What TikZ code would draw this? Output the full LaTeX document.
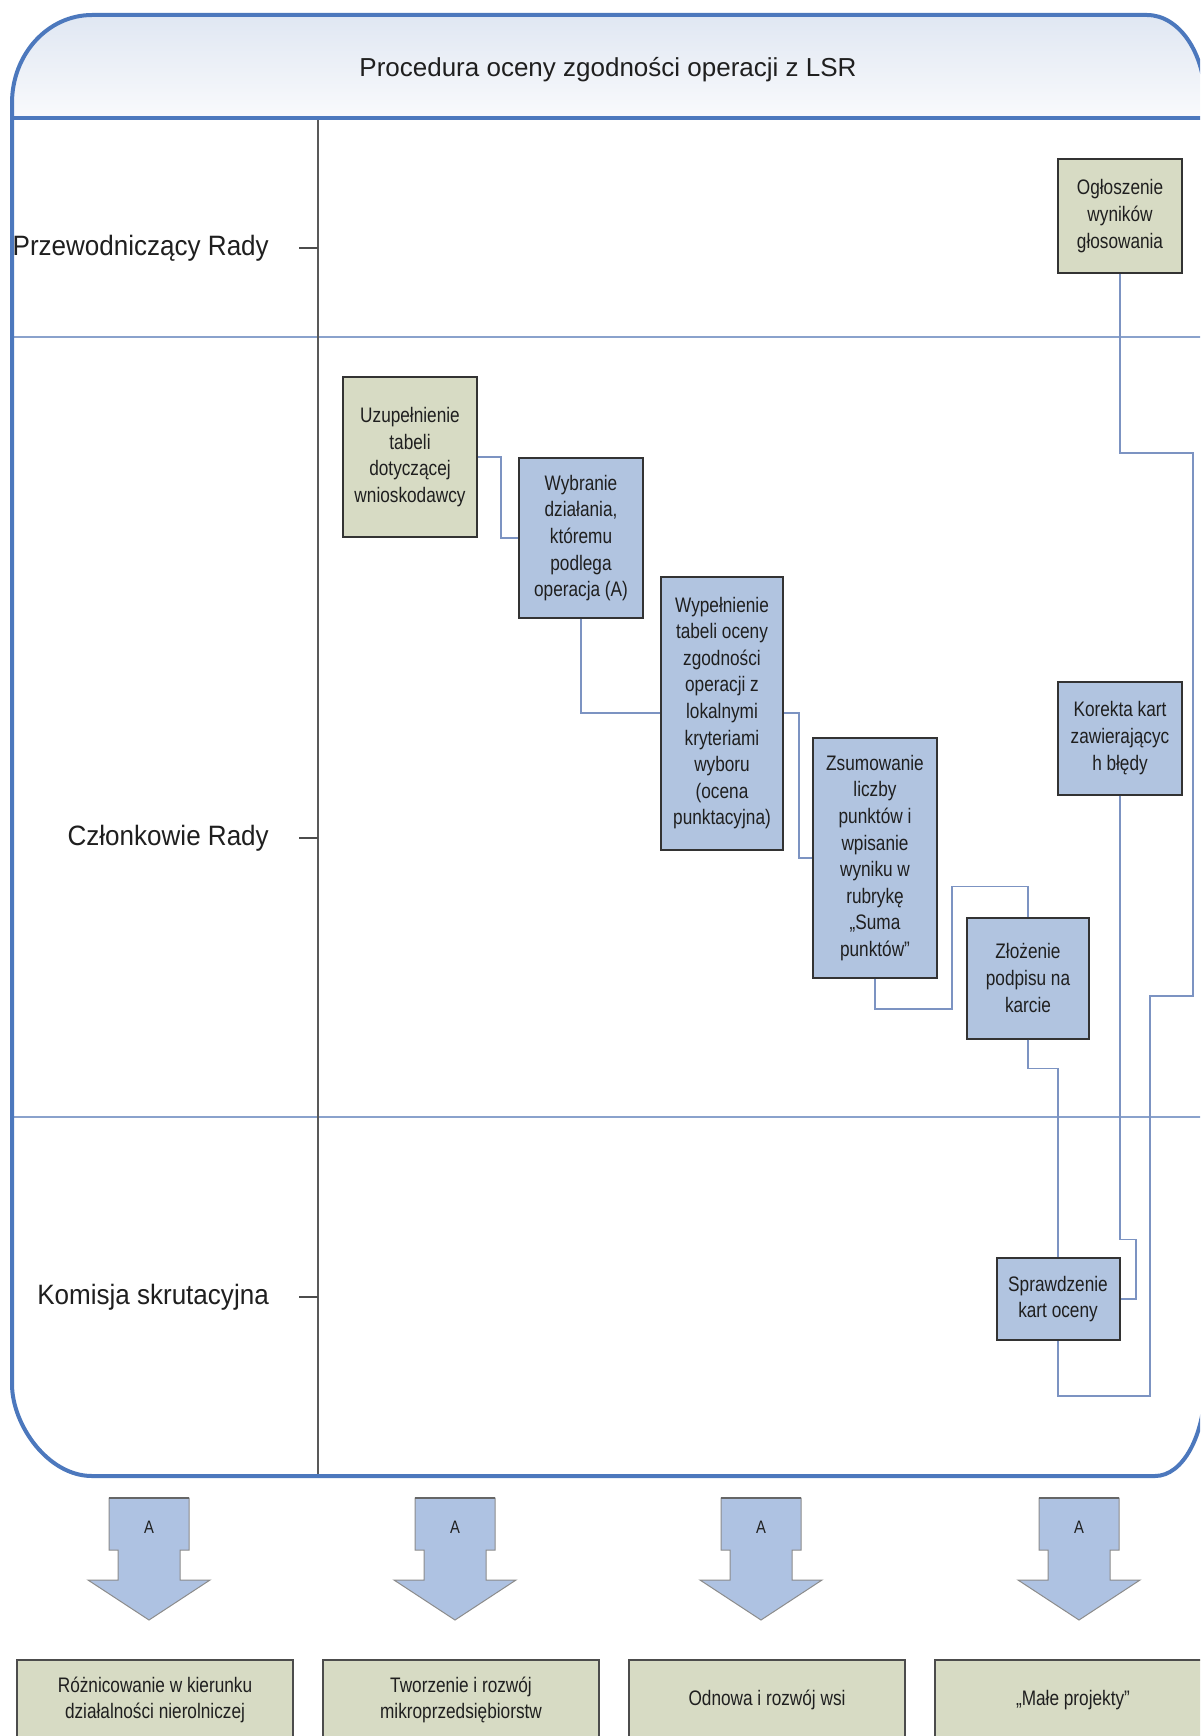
\documentclass[tikz,border=0pt]{standalone}
\usepackage{fontspec}
\setmainfont{Liberation Sans}
\newfontfamily\narrowfont[FakeStretch=0.82]{Liberation Sans}
\newfontfamily\lanefont[FakeStretch=0.93]{Liberation Sans}
\usetikzlibrary{calc}
\definecolor{frameblue}{HTML}{4C78BD}
\definecolor{laneblue}{HTML}{8AA2CC}
\definecolor{connblue}{HTML}{7C93C2}
\definecolor{boxblue}{HTML}{B1C4E0}
\definecolor{boxbeige}{HTML}{D7DBC4}
\definecolor{arrowblue}{HTML}{AEC2E2}
\definecolor{titletop}{HTML}{DCE4F1}
\definecolor{titlebot}{HTML}{F9FAFC}
\definecolor{txt}{HTML}{1F1F1F}
\def\myframepath{(12,103) .. controls (12,54) and (48,15) .. (92,15) -- (1147,15) .. controls (1179,15) and (1205,53) .. (1205,100) -- (1205,1384) .. controls (1205,1435) and (1183,1476) .. (1155,1476) -- (92,1476) .. controls (48,1476) and (12,1425) .. (12,1384) -- cycle}
\begin{document}
\begin{tikzpicture}[x=1pt,y=-1pt,
  procbox/.style={draw=black!80, line width=2, text=txt, align=center, inner sep=0pt,
    font=\narrowfont\fontsize{21}{26.6}\selectfont},
  bluebox/.style={procbox, fill=boxblue},
  beigebox/.style={procbox, fill=boxbeige},
  conn/.style={draw=connblue, line width=1.8},
  lanesep/.style={draw=laneblue, line width=2},
  lanelabel/.style={anchor=east, inner sep=0pt, text=txt, font=\lanefont\fontsize{28}{32}\selectfont},
  lanetick/.style={draw=black!70, line width=1.5},
  blockarrow/.style={fill=arrowblue, draw=black!45, line width=1},
  catbox/.style={fill=boxbeige, draw=black!70, line width=2},
  cattext/.style={text=txt, align=center, font=\narrowfont\fontsize{21}{26}\selectfont},
  arrowlabel/.style={text=txt, font=\narrowfont\fontsize{18}{20}\selectfont}
]
\useasboundingbox (0,0) rectangle (1200,1736);
\clip (0,0) rectangle (1200,1736);
\fill[white] (0,0) rectangle (1200,1736);

% title band
\begin{scope}
  \clip \myframepath;
  \shade[top color=titletop, bottom color=titlebot] (0,0) rectangle (1210,118);
\end{scope}
\node[text=txt, font=\fontsize{26}{30}\selectfont] (title) at (608,70) {Procedura oceny zgodności operacji z LSR};

% lanes
\draw[lanesep] (12,337) -- (1205,337);
\draw[lanesep] (12,1117) -- (1205,1117);
\draw[draw=black!65, line width=2] (318,118) -- (318,1476);

% frame and header line
\draw[draw=frameblue, line width=4] (12,118) -- (1205,118);
\draw[draw=frameblue, line width=4] \myframepath;

% lane labels
\node[lanelabel] (lane1) at (269,248) {Przewodniczący Rady};
\node[lanelabel] (lane2) at (269,838) {Członkowie Rady};
\node[lanelabel] (lane3) at (269,1297) {Komisja skrutacyjna};
\draw[lanetick] (299,248) -- (318,248);
\draw[lanetick] (299,838) -- (318,838);
\draw[lanetick] (299,1297) -- (318,1297);

% process boxes
\node[beigebox, minimum width=134, minimum height=160] (uzu) at (410,457) {Uzupełnienie\\tabeli\\dotyczącej\\wnioskodawcy};
\node[bluebox, minimum width=124, minimum height=160] (wyb) at (581,538) {Wybranie\\działania,\\któremu\\podlega\\operacja (A)};
\node[bluebox, minimum width=122, minimum height=273] (wyp) at (722,713) {Wypełnienie\\tabeli oceny\\zgodności\\operacji z\\lokalnymi\\kryteriami\\wyboru\\(ocena\\punktacyjna)};
\node[bluebox, minimum width=124, minimum height=240] (zsu) at (875,858) {Zsumowanie\\liczby\\punktów i\\wpisanie\\wyniku w\\rubrykę\\„Suma\\punktów”};
\node[bluebox, minimum width=122, minimum height=121] (zlo) at (1028,978) {Złożenie\\podpisu na\\karcie};
\node[beigebox, minimum width=124, minimum height=113] (ogl) at (1120,216) {Ogłoszenie\\wyników\\głosowania};
\node[bluebox, minimum width=124, minimum height=113] (kor) at (1120,738) {Korekta kart\\zawierającyc\\h błędy};
\node[bluebox, minimum width=123, minimum height=82] (spr) at (1058,1299) {Sprawdzenie\\kart oceny};

% connectors
\draw[conn] (uzu.east) -- ++(23,0) |- (wyb.west);
\draw[conn] (wyb.south) |- (wyp.west);
\draw[conn] (wyp.east) -- ++(15,0) |- (zsu.west);
\draw[conn] (zsu.south) -- ++(0,30) -- ++(77,0) |- ($(zlo.north)+(0,-30)$) -- (zlo.north);
\draw[conn] (zlo.south) -- ++(0,29) -| (spr.north);
\draw[conn] (kor.south) -- ++(0,444) -- ++(16,0) |- (spr.east);
\coordinate (oglbend) at (1120,453);
\draw[conn] (spr.south) -- ++(0,55) -- ++(92,0) -- ++(0,-400) -- ++(43,0) |- (oglbend) -- (ogl.south);

% block arrows
\foreach \cx/\nm in {149/a1,455/a2,761/a3,1079/a4}{
  \draw[blockarrow] (\cx-40,1498) -- (\cx+40,1498) -- (\cx+40,1550) -- (\cx+31,1550) -- (\cx+31,1580)
     -- (\cx+61,1580) -- (\cx,1620) -- (\cx-61,1580) -- (\cx-31,1580) -- (\cx-31,1550) -- (\cx-40,1550) -- cycle;
  \draw[draw=black!60, line width=2.5] (\cx-40,1498) -- (\cx+40,1498);
  \node[arrowlabel] (\nm) at (\cx,1527) {A};
}

% category boxes
\draw[catbox] (17,1745) -- (17,1660) -- (293,1660) -- (293,1745);
\draw[catbox] (323,1745) -- (323,1660) -- (599,1660) -- (599,1745);
\draw[catbox] (629,1745) -- (629,1660) -- (905,1660) -- (905,1745);
\draw[catbox] (935,1745) -- (935,1660) -- (1211,1660) -- (1211,1745);
\node[cattext] (c1) at (155,1700) {Różnicowanie w kierunku\\działalności nierolniczej};
\node[cattext] (c2) at (461,1700) {Tworzenie i rozwój\\mikroprzedsiębiorstw};
\node[cattext] (c3) at (767,1700) {Odnowa i rozwój wsi};
\node[cattext] (c4) at (1073,1700) {„Małe projekty”};
\end{tikzpicture}
\end{document}
